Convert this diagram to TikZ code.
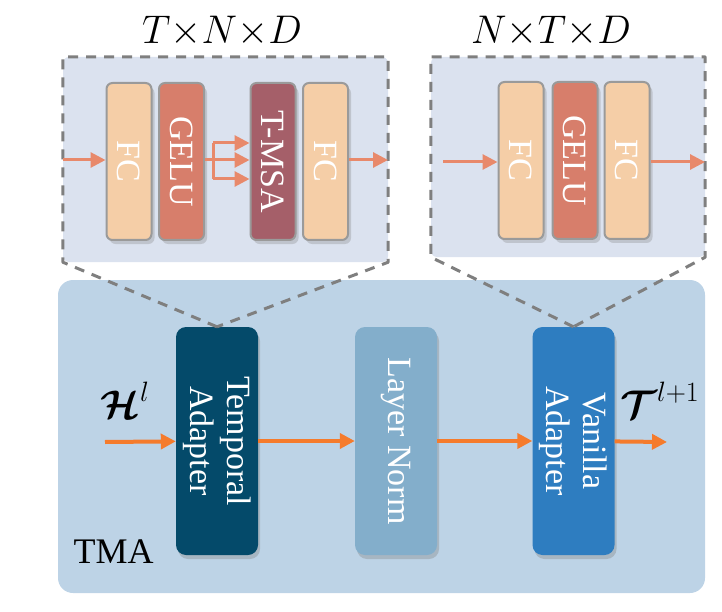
\RequirePackage{fix-cm}
\documentclass[tikz,border=0pt]{standalone}
\usepackage{amsmath}
\usepackage{bm}
\usepackage{fontspec}
\setmainfont{Liberation Serif}
\usetikzlibrary{calc,shadows,arrows.meta}
\definecolor{tmacolor}{HTML}{BDD3E6}
\definecolor{panelcolor}{HTML}{DBE2EF}
\definecolor{fccolor}{HTML}{F5CEA7}
\definecolor{gelucolor}{HTML}{D77E6B}
\definecolor{msacolor}{HTML}{A55F69}
\definecolor{temporalcolor}{HTML}{044A6A}
\definecolor{normcolor}{HTML}{83AECB}
\definecolor{vanillacolor}{HTML}{2E7DC0}
\definecolor{flowcolor}{HTML}{F57B2C}
\definecolor{innerflowcolor}{HTML}{E8896B}
\definecolor{dashcolor}{HTML}{7F7F7F}
\definecolor{bordercolor}{HTML}{9A9A9A}
\tikzstyle{layerbox} = [
    rotate=-90,
    rounded corners=10pt,
    minimum width=228pt,
    minimum height=82pt,
    inner sep=0pt,
    text=white,
    align=center,
    font=\fontsize{34}{37}\selectfont,
    drop shadow={shadow xshift=2pt, shadow yshift=-4pt, opacity=0.35}
    ]
\tikzstyle{smallbox} = [
    rotate=-90,
    draw=bordercolor,
    line width=2pt,
    rounded corners=6pt,
    minimum width=157pt,
    minimum height=45pt,
    inner sep=0pt,
    text=white,
    font=\fontsize{34}{37}\selectfont,
    drop shadow={shadow xshift=3pt, shadow yshift=-4pt, opacity=0.3}
    ]
\tikzstyle{flow} = [
    draw=flowcolor,
    line width=4pt,
    -{Triangle[length=15pt,width=15pt]}
    ]
\tikzstyle{innerflow} = [
    draw=innerflowcolor,
    line width=3pt,
    -{Triangle[length=15pt,width=15pt]}
    ]
\tikzstyle{zoomline} = [
    draw=dashcolor,
    line width=3pt,
    dash pattern=on 10pt off 8pt,
    line join=round
    ]
\tikzstyle{panel} = [
    fill=panelcolor,
    rounded corners=6pt,
    inner sep=0pt
    ]
\tikzstyle{dimtitle} = [
    font=\fontsize{40}{44}\selectfont
    ]

\begin{document}
\begin{tikzpicture}[x=1pt,y=-1pt]
\useasboundingbox (0,0) rectangle (722,612);

% TMA block
\node [fill=tmacolor, rounded corners=15pt, minimum width=647pt, minimum height=313pt] (tma) at (381.5,436.5) {};
\node [anchor=base west, font=\fontsize{36}{40}\selectfont] (tmalabel) at (70,563) {TMA};

\node [layerbox, fill=temporalcolor] (tadp) at (217,441) {Temporal\\Adapter};
\node [layerbox, fill=normcolor] (lnorm) at (396,441) {Layer Norm};
\node [layerbox, fill=vanillacolor] (vadp) at (573.5,441) {Vanilla\\Adapter};

\coordinate (hin) at (105,442);
\coordinate (tout) at (667,442);
\draw [flow] (hin) -- (tadp);
\draw [flow] (tadp) -- (lnorm);
\draw [flow] (lnorm) -- (vadp);
\draw [flow] (vadp) -- (tout);

\node [anchor=base west, font=\fontsize{40}{44}\selectfont] (hlabel) at (97,418) {$\bm{\mathcal{H}}^{l}$};
\node [anchor=base west, font=\fontsize{40}{44}\selectfont] (tlabel) at (617,418) {$\bm{\mathcal{T}}^{l+1}$};

% temporal adapter zoom
\node [panel, minimum width=325pt, minimum height=205pt] (lpanel) at (225.5,159.5) {};
\draw [zoomline] (tadp.west) -- (lpanel.south west) -- (lpanel.north west) -- (lpanel.north east) -- (lpanel.south east) -- cycle;
\node [dimtitle] (ltitle) at (222,32) {$T{\times}N{\times}D$};

\node [smallbox, fill=fccolor] (fca) at (129,161.5) {FC};
\node [smallbox, fill=gelucolor] (gelua) at (181.5,161.5) {GELU};
\node [smallbox, fill=msacolor] (tmsa) at (273,161.5) {T-MSA};
\node [smallbox, fill=fccolor] (fcb) at (325.5,161.5) {FC};

\coordinate (lin) at (63,160);
\coordinate (lout) at (388,160);
\coordinate (split) at (213,160);
\coordinate (splitup) at (213,143);
\coordinate (splitdown) at (213,179);
\draw [innerflow] (lin) -- (lin -| fca.south);
\draw [draw=innerflowcolor, line width=3pt] (gelua.north |- split) -- (split);
\draw [draw=innerflowcolor, line width=3pt] (splitup) -- (splitdown);
\draw [innerflow] (split) -- (split -| tmsa.south);
\draw [innerflow] (splitup) -- (splitup -| tmsa.south);
\draw [innerflow] (splitdown) -- (splitdown -| tmsa.south);
\draw [innerflow] (lout -| fcb.north) -- (lout);

% vanilla adapter zoom
\node [panel, minimum width=274pt, minimum height=200pt] (rpanel) at (568,157) {};
\draw [zoomline] (vadp.west) -- (rpanel.south west) -- (rpanel.north west) -- (rpanel.north east) -- (rpanel.south east) -- cycle;
\node [dimtitle] (rtitle) at (551,32) {$N{\times}T{\times}D$};

\node [smallbox, fill=fccolor] (fcc) at (521,160.5) {FC};
\node [smallbox, fill=gelucolor] (gelub) at (575,160.5) {GELU};
\node [smallbox, fill=fccolor] (fcd) at (627,160.5) {FC};

\coordinate (rin) at (443,162);
\coordinate (rout) at (705,162);
\draw [innerflow] (rin) -- (rin -| fcc.south);
\draw [innerflow] (rout -| fcd.north) -- (rout);
\end{tikzpicture}
\end{document}
